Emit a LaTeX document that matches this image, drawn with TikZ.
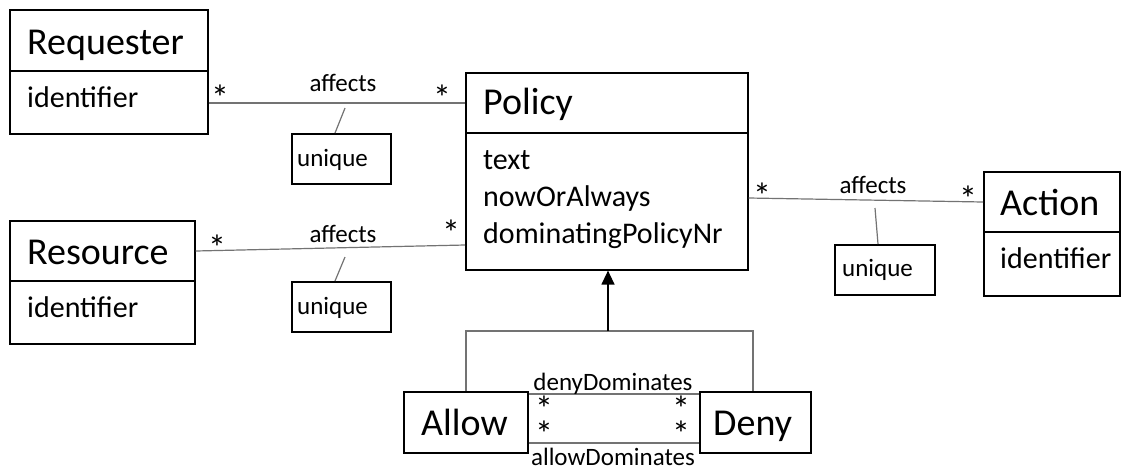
\documentclass[tikz,border=0pt]{standalone}
\usepackage{fontspec}
\setmainfont{Carlito}
\usetikzlibrary{arrows.meta}
\begin{document}
\begin{tikzpicture}[x=1pt,y=-1pt,
  box/.style={draw=black, line width=1.6pt, inner sep=0pt, anchor=north west},
  divl/.style={draw=black, line width=1.6pt},
  conn/.style={draw=black!55, line width=1.2pt},
  title/.style={font=\fontsize{38}{44}\selectfont, anchor=base west, inner sep=0pt},
  attr/.style={font=\fontsize{30}{36}\selectfont, anchor=base west, inner sep=0pt},
  lbl/.style={font=\fontsize{25}{30}\selectfont, anchor=base, inner sep=0pt},
  ulbl/.style={font=\fontsize{25}{30}\selectfont, anchor=base west, inner sep=0pt},
  star/.style={font=\fontsize{36}{40}\selectfont, anchor=base, inner sep=0pt,
    text height=0.7em, text depth=-0.3em}
]
\useasboundingbox (0,0) rectangle (1121,469);

% Requester
\node[box, minimum width=198pt, minimum height=124pt] (req) at (9,9) {};
\draw[divl] (req.west |- 0,71) -- (req.east |- 0,71);
\node[title] (reqt) at (27,54) {Requester};
\node[attr] (reqa) at (27,107) {identifier};

% Resource
\node[box, minimum width=185pt, minimum height=123pt] (res) at (9,220) {};
\draw[divl] (res.west |- 0,281) -- (res.east |- 0,281);
\node[title] (rest) at (27,264) {Resource};
\node[attr] (resa) at (27,317) {identifier};

% Policy
\node[box, minimum width=282pt, minimum height=197pt] (pol) at (465,72) {};
\draw[divl] (pol.west |- 0,133) -- (pol.east |- 0,133);
\node[title] (polt) at (483,114) {Policy};
\node[attr] (pola1) at (483,169) {text};
\node[attr] (pola2) at (483,206) {nowOrAlways};
\node[attr] (pola3) at (483,243) {dominatingPolicyNr};

% Action
\node[box, minimum width=136pt, minimum height=124pt] (act) at (983,171) {};
\draw[divl] (act.west |- 0,232) -- (act.east |- 0,232);
\node[title] (actt) at (1000,215) {Action};
\node[attr] (acta) at (1000,268) {identifier};

% Allow / Deny
\node[box, minimum width=124pt, minimum height=61pt] (allow) at (403,391) {};
\node[title] (allowt) at (421,435) {Allow};
\node[box, minimum width=111pt, minimum height=61pt] (deny) at (699,391) {};
\node[title] (denyt) at (713,435) {Deny};

% unique boxes
\node[box, minimum width=99pt, minimum height=50pt] (u1) at (291,133) {};
\node[ulbl] (u1t) at (297,166) {unique};
\node[box, minimum width=99pt, minimum height=50pt] (u2) at (291,281) {};
\node[ulbl] (u2t) at (297,314) {unique};
\node[box, minimum width=100pt, minimum height=50pt] (u3) at (834,244) {};
\node[ulbl] (u3t) at (842,276) {unique};

% associations
\draw[conn] (req.east |- 0,103) -- (pol.west |- 0,103);
\draw[conn] (res.east |- 0,251) -- (pol.west |- 0,245);
\draw[conn] (pol.east |- 0,198) -- (act.west |- 0,202);
\coordinate (c1) at (345,108);
\coordinate (c2) at (345,257);
\coordinate (c3) at (875,208);
\draw[conn] (c1) -- (u1.north -| 335,0);
\draw[conn] (c2) -- (u2.north -| 335,0);
\draw[conn] (c3) -- (u3.north -| 878,0);

\node[lbl] (l1) at (343,91) {affects};
\node[lbl] (l2) at (343,242) {affects};
\node[lbl] (l3) at (873,193) {affects};

\node[star] (s1) at (220,110) {*};
\node[star] (s2) at (442,110) {*};
\node[star] (s3) at (217,260) {*};
\node[star] (s4) at (451,245) {*};
\node[star] (s5) at (762,208) {*};
\node[star] (s6) at (968,211) {*};

% generalization
\coordinate (j) at (608,331);
\draw[conn] (allow.north -| 466,0) -- (466,331) -- (753,331) -- (deny.north -| 753,0);
\draw[line width=1.3pt, -{Triangle[width=13pt,length=14pt]}] (j) -- (pol.south -| j);

% dominates
\draw[conn] (allow.east |- 0,394) -- (deny.west |- 0,394);
\draw[conn] (allow.east |- 0,443) -- (deny.west |- 0,443);
\node[lbl] (dd) at (613,390) {denyDominates};
\node[lbl, text depth=0pt] (ad) at (613,465) {allowDominates};
\node[star] (s7) at (544,421) {*};
\node[star] (s8) at (681,421) {*};
\node[star] (s9) at (544,446) {*};
\node[star] (s10) at (681,446) {*};
\end{tikzpicture}
\end{document}
